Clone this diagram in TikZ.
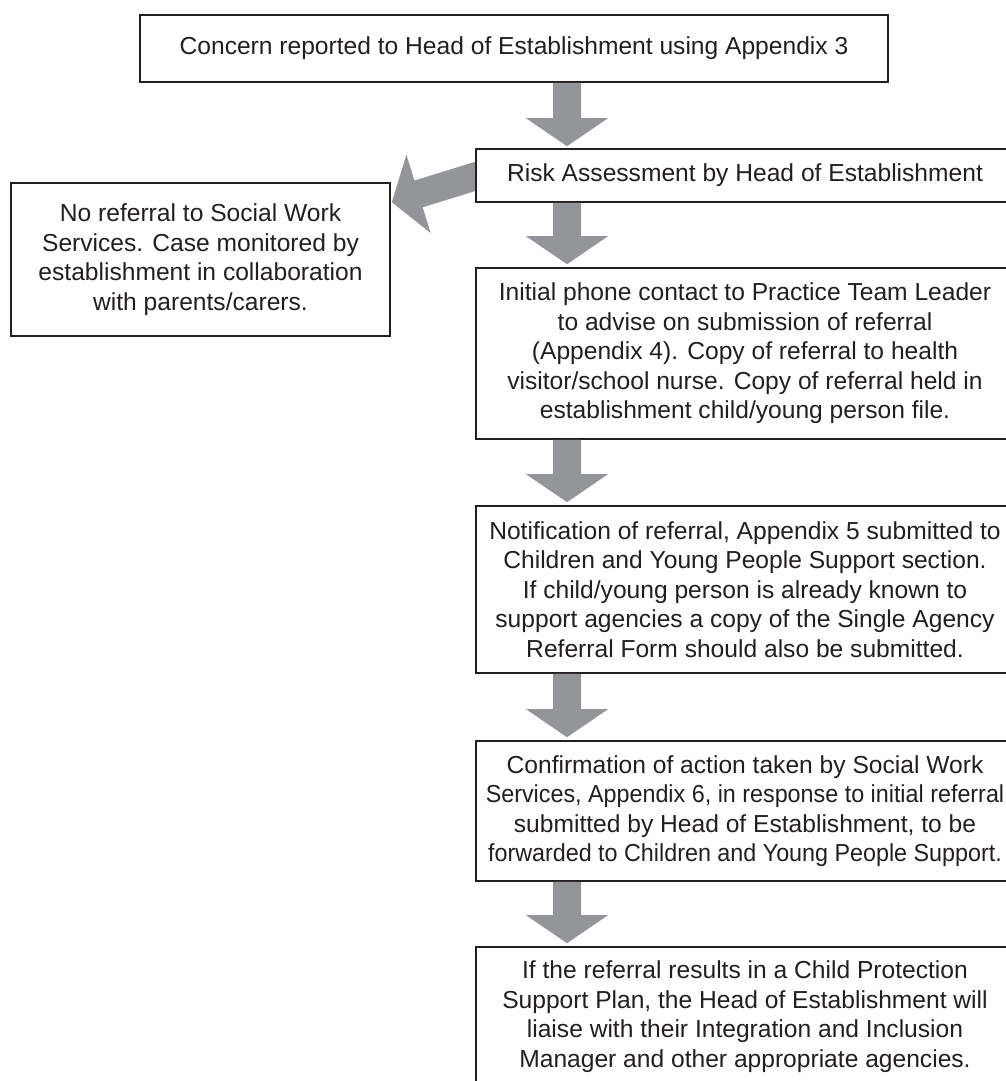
\documentclass[tikz,border=0pt]{standalone}
\usepackage{fontspec}
\setmainfont{Liberation Sans}
\usetikzlibrary{calc}
\definecolor{arrowgray}{HTML}{939598}
\definecolor{inkcol}{HTML}{231F20}
\tikzset{
  flowbox/.style={draw=inkcol, line width=1.6pt, fill=white, text=inkcol,
    align=center, inner sep=0pt, rectangle,
    font=\fontsize{24.6}{29.5}\selectfont},
  arrowfill/.style={fill=arrowgray}
}
\newcommand{\blockarrow}[2]{%
  \coordinate (ba-base) at ($(#2)!28pt!(#1)$);
  \fill[arrowfill] (#2) -- ($(ba-base)!41pt!90:(#1)$) -- ($(ba-base)!14pt!90:(#1)$)
    -- ($(#1)!14pt!-90:(#2)$) -- ($(#1)!14pt!90:(#2)$)
    -- ($(ba-base)!14pt!-90:(#1)$) -- ($(ba-base)!41pt!-90:(#1)$) -- cycle;}
\newcommand{\narrowline}[1]{\scalebox{0.948}[1]{#1}}
\begin{document}
\begin{tikzpicture}[x=1pt,y=-1pt]
\useasboundingbox (0,0) rectangle (1006,1081);
\clip (0,0) rectangle (1006,1081);
\coordinate (ax) at (567,0);
% nodes (positions)
\path node[flowbox, minimum width=748pt, minimum height=67pt] (top) at (514,48.5)
  {Concern reported to Head of Establishment using Appendix 3};
\path node[flowbox, minimum width=379pt, minimum height=153pt] (nosw) at (200.5,259.5)
  {No referral to Social Work\\Services. Case monitored by\\establishment in collaboration\\with parents/carers.};
% diagonal arrow (drawn before the risk box so the box covers its tail)
\coordinate (dtip) at ($(nosw.north east)+(1,20)$);
\coordinate (dtail) at ($(476,175.5)+(29.5,-8.5)$);
\blockarrow{dtail}{dtip}
\path node[flowbox, minimum width=538pt, minimum height=53pt] (risk) at (745,175.5)
  {Risk Assessment by Head of Establishment};
\path node[flowbox, minimum width=538pt, minimum height=171pt] (init) at (745,353.5)
  {Initial phone contact to Practice Team Leader\\to advise on submission of referral\\(Appendix 4). Copy of referral to health\\visitor/school nurse. Copy of referral held in\\establishment child/young person file.};
\path node[flowbox, minimum width=538pt, minimum height=167pt] (notif) at (745,589.5)
  {Notification of referral, Appendix 5 submitted to\\Children and Young People Support section.\\If child/young person is already known to\\support agencies a copy of the Single Agency\\Referral Form should also be submitted.};
\path node[flowbox, minimum width=538pt, minimum height=140pt] (conf) at (745,811)
  {Confirmation of action taken by Social Work\\\narrowline{Services, Appendix 6, in response to initial referral}\\submitted by Head of Establishment, to be\\\narrowline{forwarded to Children and Young People Support.}};
\path node[flowbox, minimum width=538pt, minimum height=139pt] (last) at (745,1016.5)
  {If the referral results in a Child Protection\\Support Plan, the Head of Establishment will\\liaise with their Integration and Inclusion\\Manager and other appropriate agencies.};
% vertical block arrows
\coordinate (t1) at (top.south -| ax);   \coordinate (h1) at ($(risk.north -| ax)+(0,-2)$);
\coordinate (t2) at (risk.south -| ax);  \coordinate (h2) at ($(init.north -| ax)+(0,-3)$);
\coordinate (t3) at (init.south -| ax);  \coordinate (h3) at ($(notif.north -| ax)+(0,-3)$);
\coordinate (t4) at (notif.south -| ax); \coordinate (h4) at ($(conf.north -| ax)+(0,-3)$);
\coordinate (t5) at (conf.south -| ax);  \coordinate (h5) at ($(last.north -| ax)+(0,-3)$);
\blockarrow{t1}{h1}
\blockarrow{t2}{h2}
\blockarrow{t3}{h3}
\blockarrow{t4}{h4}
\blockarrow{t5}{h5}
\end{tikzpicture}
\end{document}
